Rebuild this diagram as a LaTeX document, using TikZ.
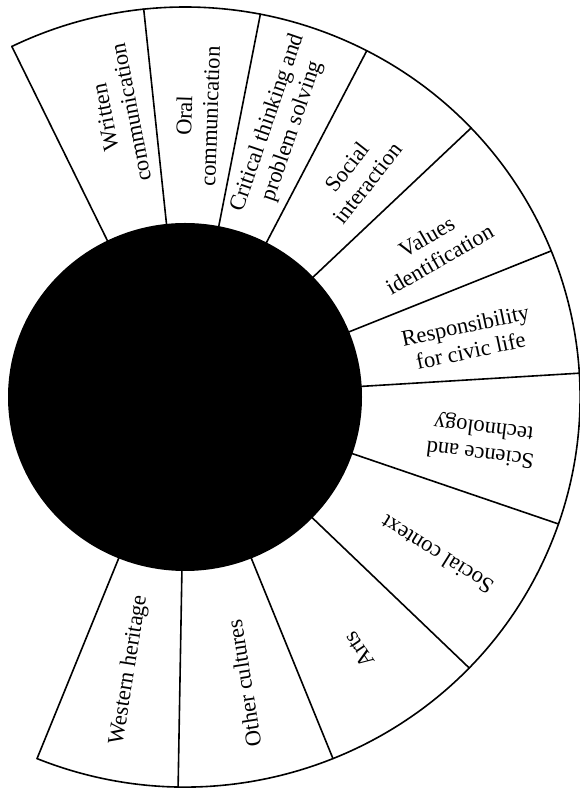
\documentclass[tikz,border=0pt]{standalone}
\usepackage{fontspec}
\setmainfont{Liberation Serif}
\usetikzlibrary{calc}
\begin{document}
\begin{tikzpicture}[x=1pt,y=1pt,
  ring/.style={line width=1.6pt, line join=round, line cap=round},
  lbl/.style={font=\fontsize{22.5}{26}\selectfont, align=center, inner sep=0pt}]
\useasboundingbox (0,0) rectangle (580,792);
\coordinate (c) at (185,395);
% black core
\fill[black] (c) ellipse[x radius=177, y radius=174];
% outer arc
\draw[ring] ($(c)+(-112:395 and 390)$) arc[start angle=-112, end angle=116, x radius=395, y radius=390];
% sector boundaries
\foreach \a in {116,96,79,62.6,43.6,22,3.5,-19,-44,-68,-91,-112}
  \draw[ring] ($(c)+(\a:172 and 169)$) -- ($(c)+(\a:395 and 390)$);
% labels
\node[lbl, rotate=101] (written) at (118,677) {Written\\communication};
\node[lbl, rotate=88] (oral) at (197,676) {Oral\\communication};
\node[lbl, rotate=71] (critical) at (280,665) {Critical thinking and\\problem solving};
\node[lbl, rotate=52] (social) at (357,617) {Social\\interaction};
\node[lbl, rotate=30] (values) at (433,544) {Values\\identification};
\node[lbl, rotate=12] (resp) at (468,454) {Responsibility\\for civic life};
\node[lbl, rotate=173] (science) at (482,352) {Science and\\technology};
\node[lbl, rotate=148] (context) at (437,237) {Social context};
\node[lbl, rotate=124] (arts) at (359,142) {Arts};
\node[lbl, rotate=99] (other) at (244,109) {Other cultures};
\node[lbl, rotate=81] (western) at (129,122) {Western heritage};
\end{tikzpicture}
\end{document}
